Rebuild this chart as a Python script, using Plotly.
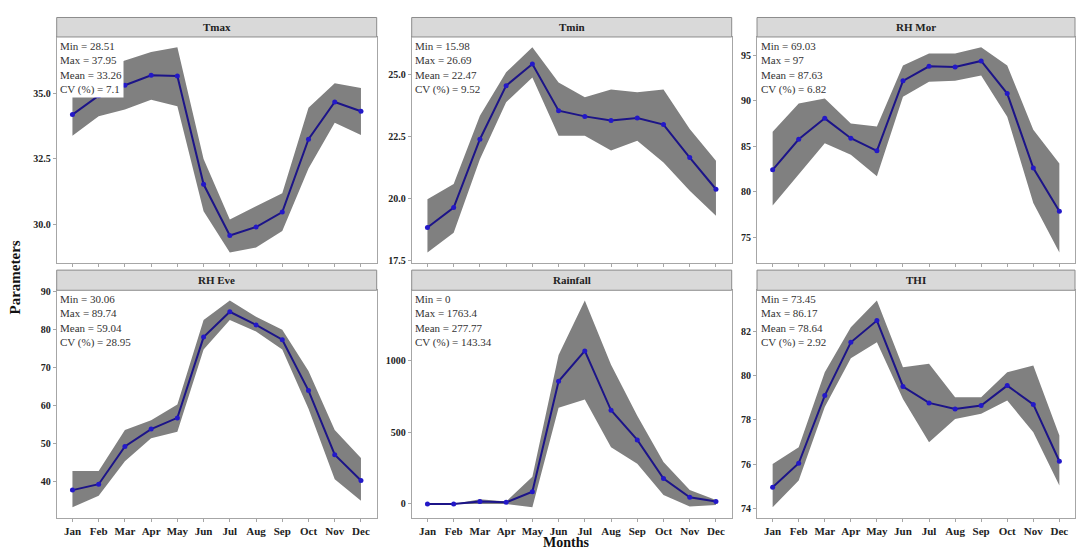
import plotly.graph_objects as go

months = ["Jan", "Feb", "Mar", "Apr", "May", "Jun", "Jul", "Aug", "Sep", "Oct", "Nov", "Dec"]

panel_titles = ["Tmax", "Tmin", "RH Mor", "RH Eve", "Rainfall", "THI"]

# mean, upper, lower per parameter
tmax_mean = [34.18, 34.9, 35.3, 35.68, 35.65, 31.52, 29.57, 29.89, 30.46, 33.24, 34.66, 34.31]
tmax_upper = [35.0, 35.9, 36.24, 36.57, 36.75, 32.49, 30.18, 30.68, 31.18, 34.44, 35.38, 35.19]
tmax_lower = [33.37, 34.12, 34.37, 34.75, 34.5, 30.49, 28.92, 29.11, 29.74, 32.12, 33.87, 33.4]

tmin_mean = [18.85, 19.65, 22.41, 24.57, 25.44, 23.56, 23.33, 23.16, 23.26, 23.0, 21.67, 20.39]
tmin_upper = [19.99, 20.6, 23.36, 25.11, 26.12, 24.7, 24.1, 24.41, 24.3, 24.41, 22.82, 21.54]
tmin_lower = [17.84, 18.64, 21.6, 23.9, 24.9, 22.55, 22.55, 21.95, 22.35, 21.47, 20.33, 19.32]

rhm_mean = [82.4, 85.77, 88.07, 85.88, 84.49, 92.2, 93.8, 93.73, 94.39, 90.8, 82.59, 77.85]
rhm_upper = [86.6, 89.7, 90.26, 87.5, 87.16, 93.9, 95.2, 95.2, 95.9, 93.9, 86.8, 83.1]
rhm_lower = [78.46, 81.86, 85.33, 84.05, 81.7, 90.45, 92.1, 92.2, 92.8, 88.25, 78.76, 73.3]

rhe_mean = [37.76, 39.31, 49.22, 53.79, 56.72, 77.93, 84.57, 81.12, 77.24, 63.88, 47.07, 40.3]
rhe_upper = [42.76, 42.76, 53.53, 56.1, 60.26, 82.4, 87.5, 83.28, 79.83, 69.05, 53.53, 46.2]
rhe_lower = [33.28, 36.3, 45.34, 51.38, 53.1, 74.66, 82.4, 79.4, 74.66, 59.14, 40.6, 35.0]

rain_mean = [0, 0, 16, 11, 85, 855, 1067, 653, 446, 177, 46, 16]
rain_upper = [0, 0, 32, 16, 189, 1039, 1418, 970, 614, 292, 97, 28]
rain_lower = [0, 0, 0, 0, -23, 671, 729, 395, 280, 62, -18, -7]

thi_mean = [74.97, 76.05, 79.1, 81.5, 82.48, 79.51, 78.77, 78.5, 78.65, 79.55, 78.7, 76.14]
thi_upper = [76.02, 76.77, 80.15, 82.18, 83.38, 80.38, 80.53, 79.03, 79.03, 80.15, 80.45, 77.3]
thi_lower = [74.07, 75.27, 78.58, 80.78, 81.5, 78.95, 77.0, 78.05, 78.28, 78.88, 77.45, 75.05]

stats_min = ["28.51", "15.98", "69.03", "30.06", "0", "73.45"]
stats_max = ["37.95", "26.69", "97", "89.74", "1763.4", "86.17"]
stats_mean = ["33.26", "22.47", "87.63", "59.04", "277.77", "78.64"]
stats_cv = ["7.1", "9.52", "6.82", "28.95", "143.34", "2.92"]

tick_vals = [
    [30.0, 32.5, 35.0],
    [17.5, 20.0, 22.5, 25.0],
    [75, 80, 85, 90, 95],
    [40, 50, 60, 70, 80, 90],
    [0, 500, 1000],
    [74, 76, 78, 80, 82],
]
tick_text = [
    ["30.0", "32.5", "35.0"],
    ["17.5", "20.0", "22.5", "25.0"],
    ["75", "80", "85", "90", "95"],
    ["40", "50", "60", "70", "80", "90"],
    ["0", "500", "1000"],
    ["74", "76", "78", "80", "82"],
]

series = [
    (tmax_mean, tmax_upper, tmax_lower),
    (tmin_mean, tmin_upper, tmin_lower),
    (rhm_mean, rhm_upper, rhm_lower),
    (rhe_mean, rhe_upper, rhe_lower),
    (rain_mean, rain_upper, rain_lower),
    (thi_mean, thi_upper, thi_lower),
]

W, H = 1077, 553
FONT = "Liberation Serif"
col_px = [(56.7, 376.7), (411.7, 731.7), (757.0, 1075.0)]
row_px = [(32.5, 262.0), (290.0, 521.0)]
strip_px = [(12.7, 32.5), (269.5, 290.0)]

fig = go.Figure()
shapes = []
annotations = []

for i, (mean, up, lo) in enumerate(series):
    r, c = divmod(i, 3)
    k = "" if i == 0 else str(i + 1)
    xa, ya = "x" + k, "y" + k
    fig.add_trace(go.Scatter(x=months, y=up, mode="lines", line=dict(width=0, color="grey"),
                             xaxis=xa, yaxis=ya, showlegend=False, hoverinfo="skip"))
    fig.add_trace(go.Scatter(x=months, y=lo, mode="lines", line=dict(width=0, color="grey"),
                             fill="tonexty", fillcolor="rgb(128,128,128)",
                             xaxis=xa, yaxis=ya, showlegend=False, hoverinfo="skip"))
    fig.add_trace(go.Scatter(x=months, y=mean, mode="lines+markers",
                             line=dict(color="#1c1488", width=2),
                             marker=dict(color="#2318c8", size=5),
                             xaxis=xa, yaxis=ya, showlegend=False))

    x0p, x1p = col_px[c]
    y0p, y1p = row_px[r]
    xd = [x0p / W, x1p / W]
    yd = [1 - y1p / H, 1 - y0p / H]
    lo_all = min(lo + mean)
    hi_all = max(up + mean)
    pad = (hi_all - lo_all) * 0.05
    fig.layout["xaxis" + k] = dict(
        domain=xd, anchor=ya, range=[-0.6, 11.6], type="category",
        categoryorder="array", categoryarray=months,
        showline=True, mirror=True, linecolor="#a6a6a6", linewidth=1,
        showgrid=False, zeroline=False,
        ticks="outside", ticklen=3, tickcolor="#a6a6a6",
        showticklabels=(r == 1),
        tickfont=dict(family=FONT, size=11, color="#222222", weight="bold"),
    )
    fig.layout["yaxis" + k] = dict(
        domain=yd, anchor=xa, range=[lo_all - pad, hi_all + pad],
        tickvals=tick_vals[i], ticktext=tick_text[i],
        showline=True, mirror=True, linecolor="#a6a6a6", linewidth=1,
        showgrid=False, zeroline=False,
        ticks="outside", ticklen=3, tickcolor="#a6a6a6",
        tickfont=dict(family=FONT, size=10, color="#222222", weight="bold"),
    )

    s0, s1 = strip_px[r]
    shapes.append(dict(type="rect", xref="paper", yref="paper",
                       x0=xd[0], x1=xd[1], y0=1 - s1 / H, y1=1 - s0 / H,
                       fillcolor="#d9d9d9", line=dict(color="#8c8c8c", width=1), layer="above"))
    annotations.append(dict(xref="paper", yref="paper", x=(xd[0] + xd[1]) / 2,
                            y=1 - (s0 + s1) / 2 / H, text="<b>" + panel_titles[i] + "</b>",
                            showarrow=False, xanchor="center", yanchor="middle",
                            font=dict(family=FONT, size=11, color="#222222")))
    txt = ("Min = " + stats_min[i] + "<br>Max = " + stats_max[i] +
           "<br>Mean = " + stats_mean[i] + "<br>CV (%) = " + stats_cv[i])
    annotations.append(dict(xref="paper", yref="paper", x=xd[0] + 1.5 / W, y=yd[1] - 0.8 / H,
                            text=txt, showarrow=False, xanchor="left", yanchor="top",
                            align="left", bgcolor="white", borderpad=1,
                            font=dict(family=FONT, size=11, color="#333333")))

annotations.append(dict(xref="paper", yref="paper", x=566 / W, y=1 - 546.5 / H,
                        text="<b>Months</b>", showarrow=False, xanchor="center", yanchor="middle",
                        borderpad=0,
                        font=dict(family=FONT, size=14, color="#111111")))
annotations.append(dict(xref="paper", yref="paper", x=15 / W, y=1 - 277 / H,
                        text="<b>Parameters</b>", showarrow=False, textangle=-90,
                        xanchor="center", yanchor="middle",
                        font=dict(family=FONT, size=15, color="#111111")))

fig.update_layout(
    width=W, height=H, margin=dict(l=0, r=0, t=0, b=0),
    paper_bgcolor="white", plot_bgcolor="white",
    shapes=shapes, annotations=annotations,
    font=dict(family=FONT),
)

fig.write_html("out.html", config={"displayModeBar": False})

# remove the default page margin so the figure fills the window exactly
with open("out.html", "r", encoding="utf-8") as f:
    html = f.read()
html = html.replace("<head>", "<head><style>html,body{margin:0;padding:0;overflow:hidden;}</style>", 1)
with open("out.html", "w", encoding="utf-8") as f:
    f.write(html)
